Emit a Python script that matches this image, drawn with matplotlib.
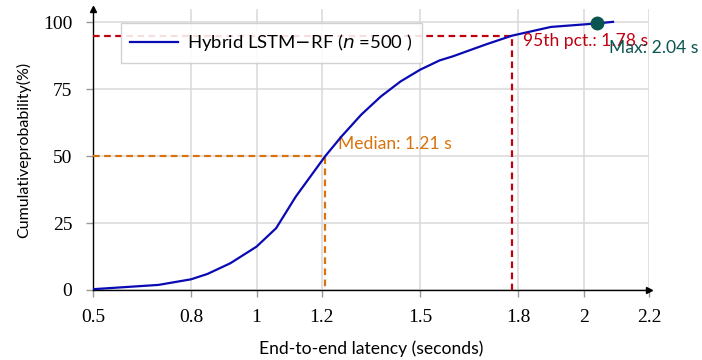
import numpy as np
import matplotlib
matplotlib.use("Agg")
import matplotlib.pyplot as plt

# CDF of end-to-end latency
latency_s = [0.50, 0.70, 0.80, 0.85, 0.92, 1.00, 1.06, 1.12, 1.21, 1.26, 1.32,
             1.38, 1.44, 1.50, 1.56, 1.60, 1.70, 1.78, 1.90, 2.04, 2.09]
cum_pct = [0.3, 1.9, 4.0, 6.0, 10.0, 16.2, 23.1, 34.9, 50.0, 57.4, 65.5,
           72.3, 77.9, 82.3, 85.8, 87.3, 91.7, 95.0, 98.3, 99.6, 100.2]

x_ticks = [0.5, 0.8, 1, 1.2, 1.5, 1.8, 2, 2.2]
x_tick_labels = ["0.5", "0.8", "1", "1.2", "1.5", "1.8", "2", "2.2"]
y_ticks = [0, 25, 50, 75, 100]

median_s = 1.21
p95_s = 1.78
max_s = 2.04
max_pct = 99.6

blue = "#0a0ab4"
orange = "#d9730d"
red = "#c00010"
teal = "#0b5550"

sans = ["Lato", "DejaVu Sans"]
serif = ["Liberation Serif", "DejaVu Serif"]

fig = plt.figure(figsize=(7.02, 3.6), dpi=100)
ax = fig.add_axes([93 / 702, 1 - 290 / 360, (649 - 93) / 702, (290 - 9) / 360])

ax.set_xlim(0.5, 2.2)
ax.set_ylim(0, 105)

ax.set_xticks(x_ticks)
ax.set_xticklabels(x_tick_labels, family=serif, fontsize=14)
ax.set_yticks(y_ticks)
ax.set_yticklabels([str(t) for t in y_ticks], family=serif, fontsize=14)
ax.tick_params(axis="both", direction="out", length=5, color="#999999", width=1)
ax.tick_params(axis="x", pad=9)
ax.tick_params(axis="y", pad=10)

ax.grid(True, color="#d9d9d9", linewidth=1.1)
ax.set_axisbelow(True)

for side in ["top", "right"]:
    ax.spines[side].set_visible(False)
for side in ["left", "bottom"]:
    ax.spines[side].set_color("black")
    ax.spines[side].set_linewidth(1.0)

# arrow heads on the axes
ax.plot(1, 0, ">", color="black", ms=5, transform=ax.transAxes, clip_on=False)
ax.plot(0, 1, "^", color="black", ms=5, transform=ax.transAxes, clip_on=False)

# reference lines
dash = (0, (3, 2))
ax.plot([0.5, median_s, median_s], [50, 50, 0], color=orange, lw=1.6, ls=dash, zorder=3)
ax.plot([0.5, p95_s, p95_s], [95, 95, 0], color=red, lw=1.6, ls=dash, zorder=3)

ax.plot(latency_s, cum_pct, color=blue, lw=1.6, zorder=4,
        label=r"Hybrid LSTM$-$RF ($n$ =500 )")
ax.plot([max_s], [max_pct], "o", color=teal, ms=9, zorder=5)

ax.text(1.248, 54.5, "Median: 1.21 s", color=orange, family=sans, fontsize=12.6,
        va="center", ha="left")
ax.text(1.815, 93.0, "95th pct.: 1.78 s", color=red, family=sans, fontsize=12.6,
        va="center", ha="left", zorder=6)
ax.text(2.078, 90.4, "Max: 2.04 s", color=teal, family=sans, fontsize=12.6,
        va="center", ha="left", zorder=6)

leg = ax.legend(loc="upper left", bbox_to_anchor=(0.05, 0.95), prop={"family": sans, "size": 13.3},
                frameon=True, fancybox=False, edgecolor="#cccccc", framealpha=0.88,
                handlelength=2.6, borderpad=0.5, handletextpad=0.5, borderaxespad=0)
leg.get_frame().set_linewidth(1.0)
leg.set_zorder(7)

ax.set_xlabel("End-to-end latency (seconds)", family=sans, fontsize=12.6, labelpad=10)
ax.set_ylabel("Cumulativeprobability(%)", family=sans, fontsize=11.5, labelpad=8)

fig.savefig("out.png", dpi=100)
